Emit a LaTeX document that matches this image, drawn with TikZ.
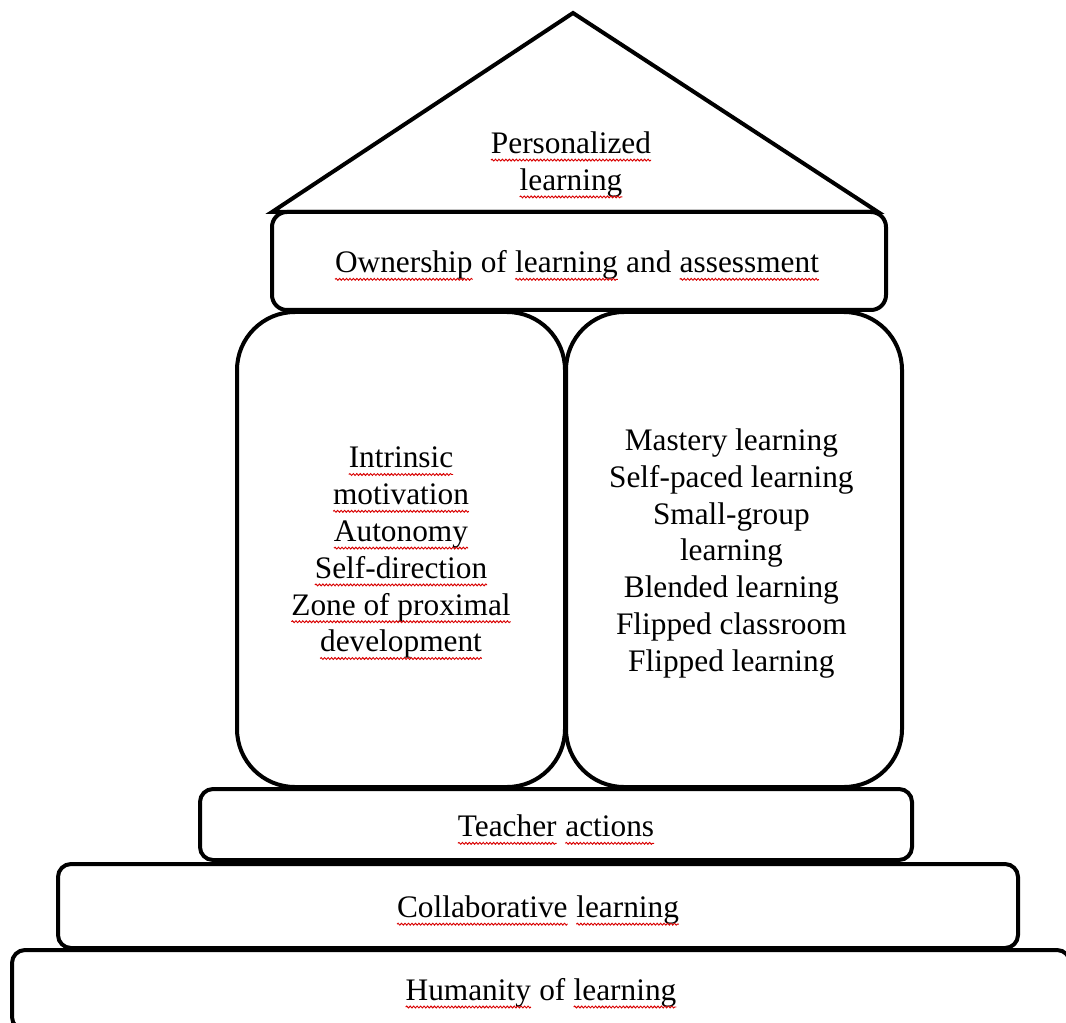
\documentclass[tikz,border=0pt]{standalone}
\usepackage{fontspec}
\setmainfont{Liberation Serif}
\usetikzlibrary{decorations.pathmorphing}
\newcommand\sq[1]{\tikz[baseline=(w.base), x=1cm, y=1cm]{\node[inner sep=0pt, outer sep=0pt, draw=none, fill=none, rounded corners=0pt, minimum width=0pt, minimum height=0pt, line width=0.4pt] (w) {#1};
  \draw[red!85!black, line width=0.7pt, rounded corners=0pt, decorate, decoration={snake, amplitude=0.7pt, segment length=2.6pt}]
    ([yshift=-5pt]w.base west) -- ([yshift=-5pt]w.base east);}}
\tikzset{
  blk/.style={draw=black, line width=3pt, fill=white, inner sep=0pt},
  txt/.style={inner sep=0pt, align=center, font=\fontsize{23.5}{27.6}\selectfont},
}
\begin{document}
\begin{tikzpicture}[x=0.75pt, y=-0.75pt]
\useasboundingbox (0,0) rectangle (1066,1023);
\fill[white] (0,0) rectangle (1066,1023);
\begin{scope}
\clip (0,0) rectangle (1066,1023);
% roof
\coordinate (apex) at (573,13);
\coordinate (bl) at (272,212);
\coordinate (br) at (878,212);
\draw[line width=3pt, line join=miter] (bl) -- (apex) -- (br) -- cycle;
\node[txt] (roof) at (571,165) {\sq{Personalized}\\\sq{learning}};
% boxes
\node[blk, rounded corners=15*0.75pt, minimum width=614*0.75pt, minimum height=98*0.75pt] (own) at (579,261) {};
\node[blk, rounded corners=58*0.75pt, minimum width=328*0.75pt, minimum height=475*0.75pt] (lp) at (401,549.5) {};
\node[blk, rounded corners=58*0.75pt, minimum width=336*0.75pt, minimum height=475*0.75pt] (rp) at (734,549.5) {};
\node[blk, rounded corners=13*0.75pt, minimum width=712*0.75pt, minimum height=71*0.75pt] (teach) at (556,824.5) {};
\node[blk, rounded corners=13*0.75pt, minimum width=960*0.75pt, minimum height=84*0.75pt] (collab) at (538,906) {};
\node[blk, rounded corners=13*0.75pt, minimum width=1058*0.75pt, minimum height=80*0.75pt] (human) at (541,990) {};
% texts
\node[txt] (ownT) at ([xshift=-1.5pt, yshift=-3.5pt]own.center)
  {\sq{Ownership} of \sq{learning} and \sq{assessment}};
\node[txt] (lpT) at ([yshift=-3pt]lp.center)
  {\sq{Intrinsic}\\\sq{motivation}\\\sq{Autonomy}\\\sq{Self-direction}\\\sq{Zone of proximal}\\\sq{development}};
\node[txt] (rpT) at ([xshift=-2pt, yshift=-3pt]rp.center)
  {Mastery learning\\Self-paced learning\\Small-group\\learning\\Blended learning\\Flipped classroom\\Flipped learning};
\node[txt] (teachT) at ([yshift=-4pt]teach.center) {\sq{Teacher} \sq{actions}};
\node[txt] (collabT) at ([yshift=-3.5pt]collab.center) {\sq{Collaborative} \sq{learning}};
\node[txt] (humanT) at ([yshift=-2.5pt]human.center) {\sq{Humanity} of \sq{learning}};
\end{scope}
\end{tikzpicture}
\end{document}
